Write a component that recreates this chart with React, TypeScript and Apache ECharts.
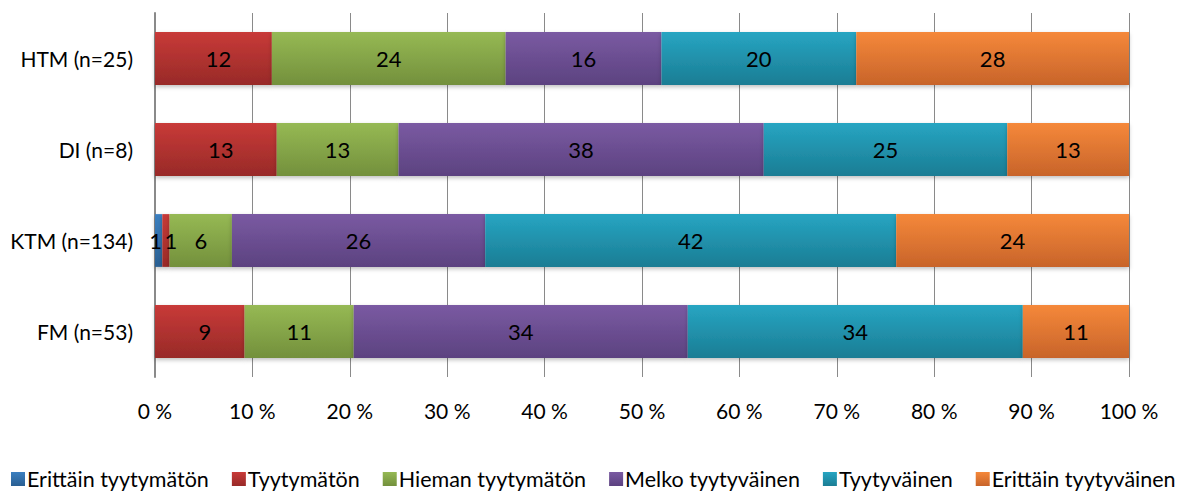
import React, { useEffect, useRef } from "react";
import * as echarts from "echarts";

const categories = ["FM (n=53)", "KTM (n=134)", "DI (n=8)", "HTM (n=25)"];
const seriesNames = [
  "Erittäin tyytymätön",
  "Tyytymätön",
  "Hieman tyytymätön",
  "Melko tyytyväinen",
  "Tyytyväinen",
  "Erittäin tyytyväinen",
];
// shares in %, per category (FM, KTM, DI, HTM)
const erittainTyytymaton = [0, 0.75, 0, 0];
const tyytymaton = [9.2, 0.75, 12.5, 12];
const hiemanTyytymaton = [11.2, 6.4, 12.5, 24];
const melkoTyytyvainen = [34.3, 26, 37.5, 16];
const tyytyvainen = [34.4, 42.2, 25, 20];
const erittainTyytyvainen = [10.9, 23.9, 12.5, 28];
const tickLabels = [0, 10, 20, 30, 40, 50, 60, 70, 80, 90, 100];

const allValues = [
  erittainTyytymaton,
  tyytymaton,
  hiemanTyytymaton,
  melkoTyytyvainen,
  tyytyvainen,
  erittainTyytyvainen,
];
const colorsTop = ["#3b7fc0", "#c83a38", "#96b954", "#7a5aa2", "#27a5c2", "#f5883a"];
const colorsBottom = ["#2a5f92", "#982a28", "#73903c", "#5c4280", "#1b7d94", "#c8642a"];
const labelOffsets = [[-3, 0], [5, 0], [0, 0], [0, 0], [0, 0], [0, 0]];

const FONT = "Lato, 'Open Sans', sans-serif";

export default function App() {
  const ref = useRef<HTMLDivElement>(null);
  useEffect(() => {
    if (!ref.current) return;
    const chart = echarts.init(ref.current, undefined, { renderer: "svg" });
    chart.setOption({
      animation: false,
      textStyle: { fontFamily: FONT },
      legend: {
        left: 11,
        top: 468,
        padding: 0,
        itemWidth: 14,
        itemHeight: 14,
        itemGap: 23,
        icon: "rect",
        textStyle: { fontSize: 21.5, color: "#000", fontFamily: FONT, padding: [0, 0, 0, -3] },
        data: seriesNames,
      },
      grid: { left: 155, right: 52, top: 13, height: 364, containLabel: false },
      xAxis: {
        type: "value",
        min: 0,
        max: 100,
        interval: 10,
        axisLabel: {
          formatter: (v: number) => (tickLabels.includes(v) ? `${v} %` : ""),
          fontSize: 21,
          color: "#000",
          margin: 23,
          fontFamily: FONT,
        },
        axisLine: { show: false },
        axisTick: { show: false },
        splitLine: { show: true, lineStyle: { color: "#8a8a8a", width: 1 } },
      },
      yAxis: {
        type: "category",
        data: categories,
        axisLine: { show: true, lineStyle: { color: "#8a8a8a", width: 2 } },
        axisTick: { show: false },
        axisLabel: { fontSize: 21, color: "#000", margin: 22, fontFamily: FONT },
      },
      series: seriesNames.map((name, i) => ({
        name,
        type: "bar",
        stack: "total",
        barCategoryGap: "42%",
        data: allValues[i],
        itemStyle: {
          color: new echarts.graphic.LinearGradient(0, 0, 0, 1, [
            { offset: 0, color: colorsTop[i] },
            { offset: 1, color: colorsBottom[i] },
          ]),
          shadowColor: "rgba(0,0,0,0.25)",
          shadowBlur: 4,
          shadowOffsetY: 2,
        },
        label: {
          show: true,
          position: "inside",
          fontSize: 22,
          color: "#000",
          fontFamily: FONT,
          offset: labelOffsets[i],
          formatter: (p: any) => (p.value > 0 ? String(Math.round(p.value)) : ""),
        },
      })),
    });
    return () => chart.dispose();
  }, []);
  return <div ref={ref} style={{ width: 1181, height: 493, position: "absolute", left: 0, top: 0 }} />;
}
